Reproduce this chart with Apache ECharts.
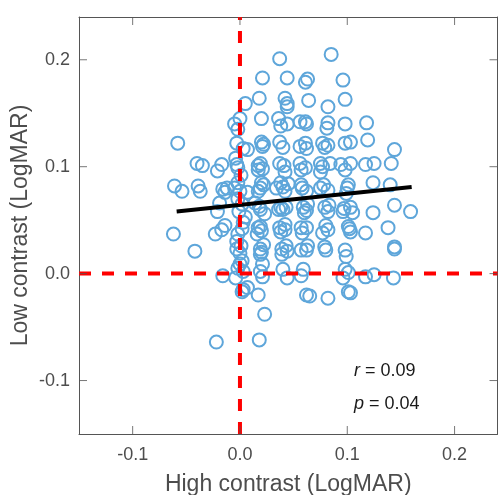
<!DOCTYPE html>
<html>
<head>
<meta charset="utf-8">
<script src="https://cdn.jsdelivr.net/npm/echarts@6/dist/echarts.min.js"></script>
<style>
  html, body { margin: 0; padding: 0; background: #fff; }
  #chart { width: 498px; height: 495px; }
</style>
</head>
<body>
<div id="chart"></div>
<script>
// High-contrast vs low-contrast acuity (LogMAR), one circle per eye
const highContrast = [
  0.037, 0.085, 0.021, 0.044, 0.061, 0.063, 0.096, 0.018, 0.042, 0.044,
  0.044, 0.064, 0.098, 0.082, 0.005, 0.000, -0.005, 0.020, 0.036, 0.038,
  0.044, 0.056, 0.061, 0.062, 0.082, 0.081, 0.098, 0.118, -0.002, 0.119,
  0.098, 0.103, 0.144, 0.020, 0.021, 0.037, 0.040, 0.061, 0.062, 0.077,
  0.079, 0.007, -0.003, 0.003, -0.058, 0.141, 0.019, 0.017, 0.021, 0.037,
  0.042, 0.056, 0.057, 0.075, 0.075, 0.084, 0.094, 0.098, 0.103, 0.117,
  0.125, -0.003, -0.002, -0.004, -0.040, -0.035, -0.021, -0.017, 0.020, 0.017,
  0.038, 0.042, 0.057, 0.062, 0.075, 0.082, 0.101, 0.099, 0.124, 0.140,
  -0.061, -0.054, -0.039, -0.037, -0.016, -0.005, 0.000, 0.019, 0.034, 0.045,
  -0.014, -0.002, 0.007, 0.144, 0.159, 0.124, 0.103, 0.105, 0.096, 0.079,
  0.082, 0.059, 0.062, 0.038, 0.043, 0.019, 0.014, 0.040, -0.021, 0.005,
  0.017, 0.037, 0.042, 0.057, 0.062, 0.077, 0.082, 0.101, 0.103, 0.117,
  0.138, 0.144, -0.062, -0.023, -0.017, -0.002, 0.002, 0.016, 0.019, -0.003,
  0.000, 0.019, 0.019, 0.020, 0.039, 0.044, 0.057, 0.062, 0.080, 0.098,
  0.099, 0.144, -0.042, -0.016, -0.004, 0.003, -0.002, 0.019, 0.021, 0.040,
  0.059, 0.098, 0.101, 0.117, 0.125, 0.143, 0.003, 0.002, 0.017, 0.062,
  0.065, 0.082, 0.101, 0.103, 0.007, 0.023, 0.018, -0.022, 0.044, 0.057,
  0.096, 0.001, -0.002, 0.002, -0.001, 0.003, -0.003, 0.001, 0.000, 0.002,
  0.022, 0.018, 0.023, 0.020, 0.022, 0.017, 0.022, 0.021, 0.040, 0.036,
  0.042, 0.038, 0.041, 0.043, 0.039, 0.058, 0.063, 0.060, 0.058, 0.061,
  0.056, 0.063, 0.078, 0.083, 0.080, 0.077, 0.082, 0.079, 0.100, 0.097,
  0.102, -0.019, -0.012, -0.014
];
const lowContrast = [
  0.201, 0.205, 0.183, 0.183, 0.179, 0.182, 0.181, 0.164, 0.164, 0.159,
  0.156, 0.162, 0.163, 0.156, 0.159, 0.145, 0.140, 0.145, 0.145, 0.138,
  0.140, 0.142, 0.142, 0.140, 0.141, 0.136, 0.140, 0.141, 0.135, 0.125,
  0.122, 0.123, 0.116, 0.123, 0.119, 0.123, 0.118, 0.122, 0.117, 0.122,
  0.118, 0.116, 0.122, 0.117, 0.122, 0.103, 0.103, 0.097, 0.098, 0.103,
  0.095, 0.103, 0.097, 0.103, 0.095, 0.103, 0.102, 0.097, 0.103, 0.102,
  0.103, 0.102, 0.099, 0.108, 0.103, 0.101, 0.096, 0.102, 0.085, 0.077,
  0.085, 0.077, 0.083, 0.077, 0.080, 0.078, 0.083, 0.075, 0.085, 0.083,
  0.082, 0.077, 0.082, 0.077, 0.079, 0.080, 0.077, 0.080, 0.080, 0.084,
  0.076, 0.070, 0.076, 0.064, 0.058, 0.057, 0.062, 0.057, 0.058, 0.062,
  0.058, 0.062, 0.059, 0.062, 0.062, 0.060, 0.066, 0.060, 0.058, 0.053,
  0.043, 0.043, 0.041, 0.043, 0.043, 0.038, 0.041, 0.044, 0.039, 0.038,
  0.043, 0.025, 0.037, 0.037, 0.041, 0.037, 0.042, 0.037, 0.044, 0.023,
  0.019, 0.023, 0.018, 0.020, 0.023, 0.021, 0.022, 0.022, 0.022, 0.022,
  0.016, 0.023, 0.021, -0.002, -0.004, 0.002, 0.005, 0.002, -0.003, 0.004,
  0.004, 0.004, 0.001, -0.003, -0.001, -0.004, -0.015, -0.017, -0.020, -0.020,
  -0.021, -0.023, -0.017, -0.018, -0.013, -0.038, -0.062, -0.064, -0.004, -0.002,
  -0.004, 0.092, 0.085, 0.065, 0.058, 0.048, 0.030, 0.026, 0.009, 0.012,
  0.083, 0.063, 0.056, 0.040, 0.027, 0.101, 0.121, 0.009, 0.081, 0.060,
  0.046, 0.039, 0.101, 0.026, 0.018, 0.080, 0.065, 0.057, 0.038, 0.099,
  0.119, 0.026, 0.083, 0.064, 0.045, 0.100, 0.120, 0.025, 0.080, 0.061,
  0.042, 0.066, 0.080, 0.045
];

// Least-squares fit endpoints and statistics
const fitX = [-0.059, 0.160];
const fitY = [0.058, 0.081];
const statR = '0.09';
const statP = '0.04';

// Axis range and tick values
const axisMin = -0.15;
const axisMax = 0.24;
const tickValues = [-0.1, 0.0, 0.1, 0.2];

const points = highContrast.map((x, i) => [x, lowContrast[i]]);

const chart = echarts.init(document.getElementById('chart'), null, { renderer: 'canvas' });

const FONT = 'Liberation Sans, Arial, Helvetica, sans-serif';
const AXIS_COLOR = '#555555';
const LABEL_COLOR = '#4d4d4d';
const TICK_LEN = 8;

const baseAxis = {
  min: axisMin,
  max: axisMax,
  interval: 0.05,
  splitLine: { show: false },
  axisLine: { show: true, onZero: false, lineStyle: { color: AXIS_COLOR, width: 1 } },
  axisTick: { show: false },
  axisLabel: {
    color: LABEL_COLOR, fontSize: 18, fontFamily: FONT,
    customValues: tickValues,
    formatter: v => v.toFixed(1)
  }
};

// Inward tick marks drawn as thin rectangles anchored on the box edges
function tickSeries(data, size, offset) {
  return {
    type: 'scatter',
    data: data,
    symbol: 'rect',
    symbolSize: size,
    symbolOffset: offset,
    z: 8,
    silent: true,
    clip: false,
    itemStyle: { color: AXIS_COLOR, borderWidth: 0 },
    emphasis: { disabled: true }
  };
}

const option = {
  animation: false,
  backgroundColor: '#ffffff',
  grid: {
    left: 79, top: 17, right: 0.5, bottom: 61,
    containLabel: false, outerBoundsMode: 'none'
  },
  xAxis: [
    Object.assign({}, baseAxis, {
      type: 'value', position: 'bottom',
      axisLabel: Object.assign({}, baseAxis.axisLabel, { margin: 12 }),
      name: 'High contrast (LogMAR)', nameLocation: 'middle', nameGap: 39,
      nameMoveOverlap: false,
      nameTextStyle: { color: LABEL_COLOR, fontSize: 23, fontFamily: FONT }
    }),
    Object.assign({}, baseAxis, {
      type: 'value', position: 'top',
      axisLabel: { show: false }
    })
  ],
  yAxis: [
    Object.assign({}, baseAxis, {
      type: 'value', position: 'left',
      axisLabel: Object.assign({}, baseAxis.axisLabel, { margin: 9 }),
      name: 'Low contrast (LogMAR)', nameLocation: 'middle', nameGap: 47,
      nameMoveOverlap: false,
      nameTextStyle: { color: LABEL_COLOR, fontSize: 23, fontFamily: FONT }
    }),
    Object.assign({}, baseAxis, {
      type: 'value', position: 'right',
      axisLabel: { show: false }
    })
  ],
  series: [
    {
      name: 'eyes',
      type: 'scatter',
      data: points,
      symbol: 'circle',
      symbolSize: 13,
      z: 2,
      itemStyle: { color: 'rgba(0,0,0,0)', borderColor: '#5ea6da', borderWidth: 2, opacity: 1 },
      emphasis: { disabled: true }
    },
    {
      name: 'fit',
      type: 'line',
      data: [[fitX[0], fitY[0]], [fitX[1], fitY[1]]],
      symbol: 'none',
      z: 3,
      lineStyle: { color: '#000000', width: 4 },
      silent: true
    },
    {
      name: 'zeroX',
      type: 'line',
      data: [[0, axisMin], [0, axisMax]],
      symbol: 'none',
      z: 4,
      lineStyle: { color: '#ff0000', width: 4, type: [12, 11] },
      silent: true
    },
    {
      name: 'zeroY',
      type: 'line',
      data: [[axisMin, 0], [axisMax, 0]],
      symbol: 'none',
      z: 4,
      lineStyle: { color: '#ff0000', width: 4, type: [12, 11] },
      silent: true
    },
    tickSeries(tickValues.map(v => [v, axisMin]), [1, TICK_LEN], [0, -TICK_LEN / 2]),
    tickSeries(tickValues.map(v => [v, axisMax]), [1, TICK_LEN], [0, TICK_LEN / 2]),
    tickSeries(tickValues.map(v => [axisMin, v]), [TICK_LEN, 1], [TICK_LEN / 2, 0]),
    tickSeries(tickValues.map(v => [axisMax, v]), [TICK_LEN, 1], [-TICK_LEN / 2, 0])
  ],
  graphic: [
    {
      type: 'text',
      left: 354, top: 362,
      z: 10,
      style: {
        text: '{i|r} = ' + statR,
        font: '18px ' + FONT,
        fill: '#1a1a1a',
        rich: { i: { fontStyle: 'italic', fontSize: 18, fontFamily: FONT, fill: '#1a1a1a' } }
      }
    },
    {
      type: 'text',
      left: 354, top: 395,
      z: 10,
      style: {
        text: '{i|p} = ' + statP,
        font: '18px ' + FONT,
        fill: '#1a1a1a',
        rich: { i: { fontStyle: 'italic', fontSize: 18, fontFamily: FONT, fill: '#1a1a1a' } }
      }
    }
  ]
};

chart.setOption(option);
</script>
</body>
</html>
